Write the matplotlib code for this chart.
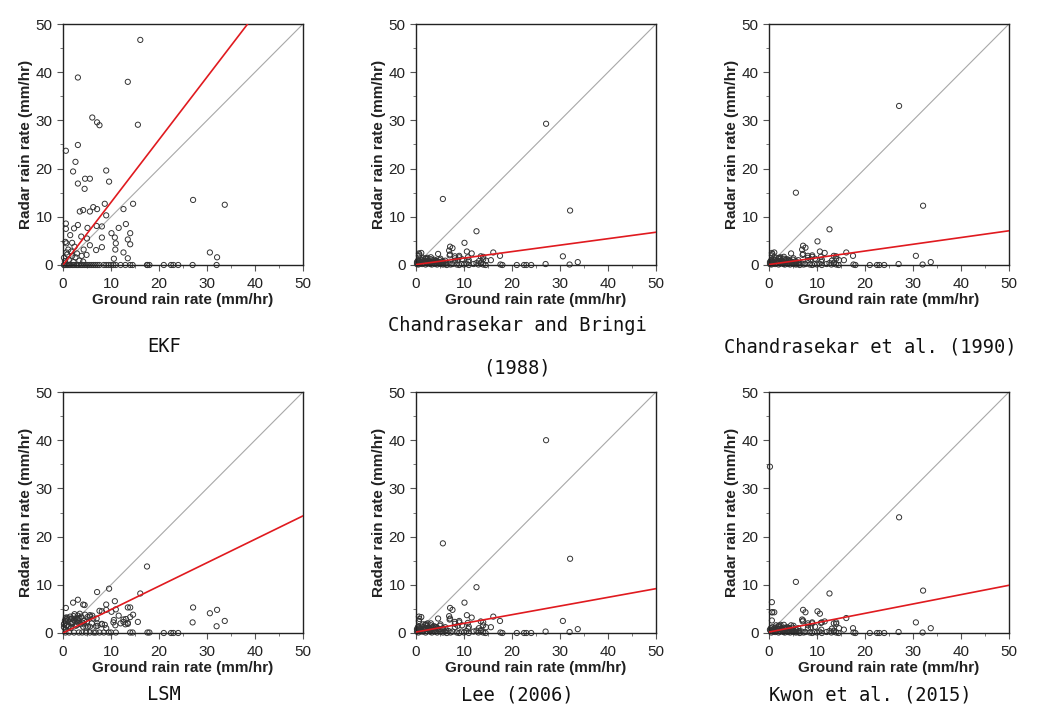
import matplotlib.pyplot as plt
from matplotlib.ticker import MultipleLocator

# 지상 강우강도 (공통 x값)
ground = [
    16.1, 3.1, 13.5, 6.1, 7.1, 7.6, 15.6, 0.6, 3.1, 2.6,
    2.1, 9.0, 9.6, 3.1, 4.6, 5.6, 4.5, 8.7, 14.6, 27.1,
    33.7, 12.6, 6.3, 7.1, 4.2, 3.5, 5.6, 9.0, 0.6, 0.6,
    3.1, 2.3, 5.1, 7.0, 8.1, 10.1, 10.8, 11.6, 13.1, 14.0,
    13.5, 14.0, 11.0, 10.9, 8.1, 8.1, 1.5, 0.7, 3.8, 5.0,
    5.6, 2.4, 4.3, 6.9, 12.6, 0.7, 1.9, 4.9, 10.6, 13.5,
    30.6, 32.1,
    32.0, 27.0, 17.5, 17.6, 18.0, 21.0, 22.5, 23.0, 24.0, 14.0,
    0.2, 0.3, 0.5, 0.8, 1.0, 1.3, 1.6, 2.0, 2.3, 2.7, 3.0, 3.3, 3.7, 4.0, 4.4, 4.8,
    5.2, 5.6, 6.0, 6.4, 6.8, 7.2, 7.6, 8.5, 9.0, 9.5, 10.0, 10.5, 11.0, 12.0, 13.0, 14.5,
    0.2, 0.4, 0.9, 1.2, 1.7, 2.2, 2.6, 2.9, 3.4, 3.9, 4.2, 1.1, 0.5, 1.9,
]

ekf = [
    46.7, 38.9, 38.0, 30.6, 29.6, 29.0, 29.1, 23.7, 24.9, 21.4,
    19.4, 19.6, 17.3, 16.9, 17.9, 17.9, 15.8, 12.7, 12.7, 13.5,
    12.5, 11.6, 12.0, 11.6, 11.4, 11.1, 11.1, 10.3, 8.6, 7.5,
    8.3, 7.6, 7.7, 8.1, 8.0, 6.6, 5.7, 7.7, 8.5, 6.6,
    5.3, 4.3, 4.5, 3.2, 5.7, 3.7, 6.2, 4.5, 5.9, 5.5,
    4.1, 3.8, 3.2, 3.1, 2.6, 2.6, 1.9, 2.1, 1.3, 1.4,
    2.6, 1.6,
    0.0, 0.0, 0.0, 0.0, 0.0, 0.0, 0.0, 0.0, 0.0, 0.0,
    0.0, 0.0, 0.0, 0.0, 0.0, 0.0, 0.0, 0.0, 0.0, 0.0, 0.0, 0.0, 0.0, 0.0, 0.0, 0.0,
    0.0, 0.0, 0.0, 0.0, 0.0, 0.0, 0.0, 0.0, 0.0, 0.0, 0.0, 0.0, 0.0, 0.0, 0.0, 0.0,
    1.5, 0.8, 2.2, 1.1, 2.8, 0.6, 1.6, 2.4, 0.9, 1.9, 0.7, 3.2, 4.8, 4.6,
]

cb1988 = [
    2.6, 1.2, 1.8, 0.9, 3.8, 3.5, 1.0, 2.4, 0.6, 0.8,
    1.4, 1.6, 1.2, 0.5, 2.3, 13.7, 0.7, 1.1, 0.9, 29.3,
    0.6, 7.0, 0.4, 2.2, 0.9, 1.0, 0.6, 1.9, 1.9, 1.0,
    1.6, 1.2, 1.3, 2.0, 1.4, 4.6, 1.6, 2.4, 0.8, 1.7,
    0.5, 1.2, 1.0, 0.7, 0.9, 1.8, 1.4, 2.2, 1.1, 1.0,
    0.8, 1.5, 0.7, 3.0, 0.4, 0.8, 1.3, 0.6, 2.8, 0.3,
    1.8, 11.3,
    0.1, 0.2, 1.9, 0.1, 0.0, 0.0, 0.0, 0.0, 0.0, 0.1,
    0.2, 0.5, 0.1, 0.3, 0.6, 0.2, 0.4, 0.1, 0.3, 0.5, 0.2, 0.1, 0.4, 0.2, 0.1, 0.3,
    0.2, 0.1, 0.2, 0.0, 0.3, 0.1, 0.2, 0.1, 0.0, 0.2, 0.1, 0.3, 0.0, 0.2, 0.1, 0.0,
    0.6, 0.9, 0.7, 1.0, 0.5, 0.8, 0.6, 0.4, 0.7, 0.5, 0.9, 2.5, 0.4, 0.7,
]

c1990 = [
    2.6, 1.3, 1.9, 1.0, 4.0, 3.6, 1.0, 2.5, 0.6, 0.9,
    1.5, 1.7, 1.3, 0.5, 2.4, 15.0, 0.8, 1.2, 1.0, 33.0,
    0.6, 7.4, 0.4, 2.3, 1.0, 1.1, 0.6, 2.0, 2.0, 1.0,
    1.7, 1.3, 1.4, 2.1, 1.5, 4.9, 1.7, 2.5, 0.9, 1.8,
    0.5, 1.3, 1.1, 0.7, 1.0, 1.9, 1.5, 2.3, 1.2, 1.1,
    0.8, 1.6, 0.7, 3.2, 0.4, 0.8, 1.4, 0.6, 2.8, 0.3,
    1.9, 12.3,
    0.1, 0.2, 1.9, 0.1, 0.0, 0.0, 0.0, 0.0, 0.0, 0.1,
    0.2, 0.5, 0.1, 0.3, 0.6, 0.2, 0.4, 0.1, 0.3, 0.5, 0.2, 0.1, 0.4, 0.2, 0.1, 0.3,
    0.2, 0.1, 0.2, 0.0, 0.3, 0.1, 0.2, 0.1, 0.0, 0.2, 0.1, 0.3, 0.0, 0.2, 0.1, 0.0,
    0.6, 0.9, 0.7, 1.0, 0.5, 0.8, 0.6, 0.4, 0.7, 0.5, 0.9, 2.6, 0.4, 0.7,
]

lsm = [
    8.2, 6.9, 5.3, 3.6, 8.5, 4.6, 2.3, 5.2, 2.8, 3.0,
    6.3, 4.8, 9.2, 2.2, 3.8, 3.4, 5.8, 1.7, 3.8, 5.3,
    2.5, 2.8, 3.0, 2.0, 5.9, 4.0, 1.3, 5.9, 3.2, 2.5,
    3.6, 2.6, 3.3, 3.0, 1.9, 4.4, 6.6, 3.6, 2.9, 5.3,
    2.1, 3.3, 4.9, 1.6, 4.5, 1.8, 3.4, 2.9, 3.4, 2.4,
    3.7, 3.9, 2.0, 1.4, 2.3, 1.5, 2.1, 1.1, 2.7, 1.9,
    4.1, 4.8,
    1.4, 2.2, 13.8, 0.1, 0.1, 0.0, 0.0, 0.0, 0.0, 0.1,
    1.2, 2.0, 0.1, 1.6, 2.7, 0.1, 1.0, 2.3, 0.1, 1.5, 3.0, 0.1, 1.8, 0.1, 2.5, 0.1,
    1.3, 0.1, 2.0, 0.1, 0.1, 1.5, 0.1, 0.1, 1.0, 0.1, 0.1, 2.2, 0.1, 2.0, 1.8, 0.1,
    1.8, 2.6, 3.2, 1.4, 2.9, 3.5, 2.4, 1.7, 3.1, 2.2, 1.3, 1.2, 0.8, 3.0,
]

lee2006 = [
    3.4, 1.6, 2.4, 1.2, 5.2, 4.8, 1.2, 3.4, 0.8, 1.1,
    1.8, 2.2, 1.6, 0.7, 3.0, 18.6, 1.0, 1.5, 1.2, 40.0,
    0.8, 9.5, 0.5, 3.0, 1.2, 1.3, 0.8, 2.5, 2.5, 1.3,
    2.0, 1.5, 1.8, 2.8, 1.9, 6.3, 2.1, 3.2, 1.0, 2.2,
    0.6, 1.6, 1.3, 0.9, 1.2, 2.3, 1.8, 2.9, 1.4, 1.5,
    1.0, 2.0, 0.9, 3.5, 0.5, 1.1, 1.7, 0.8, 3.7, 0.4,
    2.5, 15.4,
    0.2, 0.3, 2.5, 0.1, 0.0, 0.0, 0.0, 0.0, 0.0, 0.1,
    0.3, 0.6, 0.1, 0.4, 0.8, 0.3, 0.5, 0.1, 0.4, 0.6, 0.3, 0.1, 0.5, 0.3, 0.1, 0.4,
    0.3, 0.1, 0.3, 0.0, 0.4, 0.1, 0.3, 0.1, 0.0, 0.3, 0.1, 0.4, 0.0, 0.3, 0.1, 0.0,
    0.8, 1.2, 0.9, 1.3, 0.7, 1.0, 0.8, 0.5, 0.9, 0.7, 1.2, 3.3, 0.5, 0.9,
]

kwon2015 = [
    3.1, 1.1, 2.0, 1.0, 4.8, 4.3, 0.7, 4.3, 0.6, 0.9,
    1.5, 2.0, 1.3, 0.5, 1.6, 10.6, 0.8, 1.2, 1.0, 24.0,
    1.0, 8.2, 0.4, 2.6, 1.0, 1.1, 0.6, 2.2, 6.4, 2.6,
    1.7, 1.3, 1.5, 2.4, 1.6, 4.5, 2.1, 2.4, 0.9, 1.9,
    0.5, 2.2, 2.2, 0.7, 1.0, 2.0, 1.6, 4.3, 1.2, 1.1,
    0.8, 1.7, 0.7, 2.8, 0.4, 1.2, 1.4, 0.6, 4.0, 0.3,
    2.2, 8.8,
    0.1, 0.2, 1.0, 0.1, 0.0, 0.0, 0.0, 0.0, 0.0, 0.1,
    34.5, 0.5, 0.1, 0.3, 0.6, 0.2, 0.4, 0.1, 0.3, 0.5, 0.2, 0.1, 0.4, 0.2, 0.1, 0.3,
    0.2, 0.1, 0.2, 0.0, 0.3, 0.1, 0.2, 0.1, 0.0, 0.2, 0.1, 0.3, 0.0, 0.2, 0.1, 0.0,
    0.7, 1.0, 0.8, 1.1, 0.6, 0.9, 0.7, 0.5, 0.8, 0.6, 1.0, 4.3, 0.5, 0.8,
]

# 회귀선 (기울기, 절편)
fit_slope = [1.30, 0.134, 0.140, 0.486, 0.180, 0.194]
fit_intercept = [0.0, 0.1, 0.1, 0.0, 0.2, 0.2]

captions = ["EKF", "Chandrasekar and Bringi\n(1988)", "Chandrasekar et al. (1990)",
            "LSM", "Lee (2006)", "Kwon et al. (2015)"]
radar = [ekf, cb1988, c1990, lsm, lee2006, kwon2015]

W, H = 1046, 710
fig = plt.figure(figsize=(W / 100, H / 100), dpi=100)

# 패널 위치 (픽셀)
lefts = [63, 416, 769]
tops = [24, 392]
aw, ah = 240, 241
cap_y = [347, 695]

for i in range(6):
    r, c = divmod(i, 3)
    ax = fig.add_axes([lefts[c] / W, (H - tops[r] - ah) / H, aw / W, ah / H])

    ax.plot([0, 50], [0, 50], color='#a8a8a8', lw=0.8, zorder=1)
    ax.scatter(ground, radar[i], s=14, facecolors='none', edgecolors='#333333',
               linewidths=0.7, zorder=2, clip_on=False)
    ax.plot([0, 50], [fit_intercept[i], fit_intercept[i] + fit_slope[i] * 50],
            color='#e01a1f', lw=1.2, zorder=3)

    ax.set_xlim(0, 50)
    ax.set_ylim(0, 50)
    ax.xaxis.set_major_locator(MultipleLocator(10))
    ax.yaxis.set_major_locator(MultipleLocator(10))
    ax.xaxis.set_minor_locator(MultipleLocator(5))
    ax.yaxis.set_minor_locator(MultipleLocator(5))
    ax.tick_params(which='major', direction='out', length=4, width=0.8, pad=3.5,
                   labelsize=11, labelcolor='#222222', color='#555555')
    ax.tick_params(axis='x', which='major', pad=5)
    ax.tick_params(which='minor', direction='out', length=2.5, width=0.7, color='#777777')
    for lab in ax.get_xticklabels() + ax.get_yticklabels():
        lab.set_fontfamily('Liberation Sans')
    for sp in ax.spines.values():
        sp.set_linewidth(1.0)
        sp.set_color('#222222')

    ax.set_xlabel('Ground rain rate (mm/hr)', fontsize=11, fontweight='bold',
                  family='Liberation Sans', color='#222222', labelpad=1)
    ax.set_ylabel('Radar rain rate (mm/hr)', fontsize=11, fontweight='bold',
                  family='Liberation Sans', color='#222222', labelpad=2)

    cx = lefts[c] + aw / 2 - 19
    fig.text(cx / W, 1 - cap_y[r] / H, captions[i], ha='center', va='center',
             fontsize=13.5, family='DejaVu Sans Mono', linespacing=2.6,
             multialignment='center', color='#111111')

fig.savefig('out.png', dpi=100)
